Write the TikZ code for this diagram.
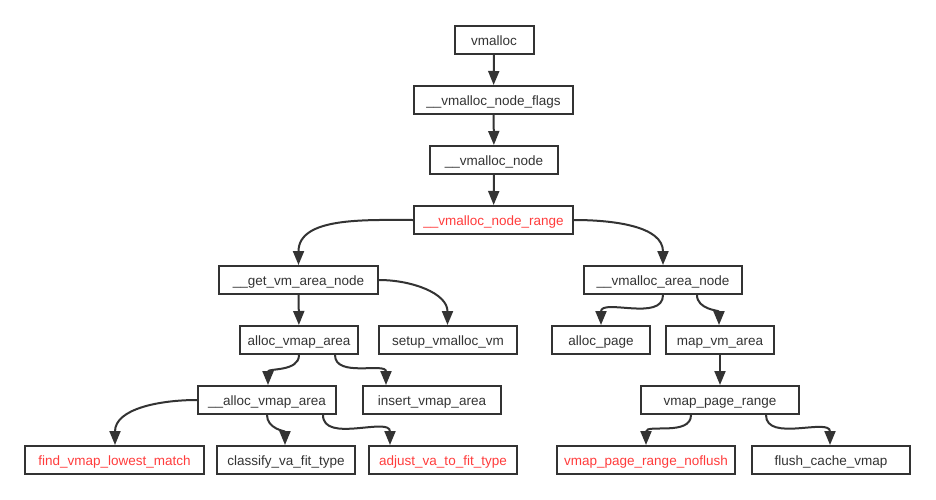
\documentclass[tikz,border=0pt]{standalone}
\usepackage{fontspec}
\setmainfont{Liberation Sans}
\usetikzlibrary{arrows.meta}
\definecolor{ink}{HTML}{333333}
\definecolor{hot}{HTML}{FF3C3C}
\begin{document}
\begin{tikzpicture}[x=1pt,y=-1pt,
  box/.style={draw=ink, line width=2pt, text=ink, minimum height=28pt, inner sep=0pt,
    text height=11pt, text depth=0pt, font=\fontsize{13.5}{16}\selectfont},
  hotbox/.style={box, text=hot},
  arr/.style={draw=ink, line width=2pt, -{Triangle[length=14pt,width=11pt]}}]
\useasboundingbox[fill=white] (0,0) rectangle (936,500);
% nodes
\node[box, minimum width=79pt]  (vm)    at (494,40)   {vmalloc};
\node[box, minimum width=159pt] (flags) at (493.5,100) {\_\_vmalloc\_node\_flags};
\node[box, minimum width=128pt] (vnode) at (494,160)  {\_\_vmalloc\_node};
\node[hotbox, minimum width=159pt] (range) at (493.5,220) {\_\_vmalloc\_node\_range};
\node[box, minimum width=159pt] (getvm) at (298.5,280) {\_\_get\_vm\_area\_node};
\node[box, minimum width=118pt] (ava)   at (299,340)  {alloc\_vmap\_area};
\node[box, minimum width=138pt] (setup) at (448,340)  {setup\_vmalloc\_vm};
\node[box, minimum width=138pt] (uava)  at (267,400)  {\_\_alloc\_vmap\_area};
\node[box, minimum width=138pt] (ins)   at (432,400)  {insert\_vmap\_area};
\node[hotbox, minimum width=179pt] (find) at (114.5,460) {find\_vmap\_lowest\_match};
\node[box, minimum width=138pt] (cls)   at (286,460)  {classify\_va\_fit\_type};
\node[hotbox, minimum width=148pt] (adj) at (443,460) {adjust\_va\_to\_fit\_type};
\node[box, minimum width=158pt] (area)  at (663,280)  {\_\_vmalloc\_area\_node};
\node[box, minimum width=98pt]  (apage) at (601,340)  {alloc\_page};
\node[box, minimum width=108pt] (mapvm) at (720,340)  {map\_vm\_area};
\node[box, minimum width=158pt] (vpr)   at (720,400)  {vmap\_page\_range};
\node[hotbox, minimum width=178pt] (nofl) at (646,460) {vmap\_page\_range\_noflush};
\node[box, minimum width=158pt] (flush) at (831,460)  {flush\_cache\_vmap};
% connectors
\draw[arr] (vm) -- (flags);
\draw[arr] (flags) -- (vnode);
\draw[arr] (vnode) -- (range);
\draw[arr] (range.west) to[out=180,in=90] (getvm.north);
\draw[arr] (range.east) to[out=0,in=90] (area.north);
\draw[arr] (getvm) -- (ava);
\draw[arr] (getvm.east) to[out=0,in=90] ([xshift=-0.5pt]setup.north);
\draw[arr] (ava.south) to[out=-90,in=90] ([xshift=1pt]uava.north);
\draw[arr] ([xshift=36pt]ava.south) to[out=-90,in=90] ([xshift=-46pt]ins.north);
\draw[arr] (uava.west) to[out=180,in=90] ([xshift=0.5pt]find.north);
\draw[arr] (uava.south) to[out=-90,in=90] ([xshift=-1pt]cls.north);
\draw[arr] ([xshift=56pt]uava.south) to[out=-90,in=90] ([xshift=-53pt]adj.north);
\draw[arr] (area.south) to[out=-90,in=90] (apage.north);
\draw[arr] ([xshift=34pt]area.south) to[out=-90,in=90] ([xshift=-1pt]mapvm.north);
\draw[arr] (mapvm) -- (vpr);
\draw[arr] ([xshift=-29pt]vpr.south) to[out=-90,in=90] (nofl.north);
\draw[arr] ([xshift=46pt]vpr.south) to[out=-90,in=90] ([xshift=-1pt]flush.north);
\end{tikzpicture}
\end{document}
